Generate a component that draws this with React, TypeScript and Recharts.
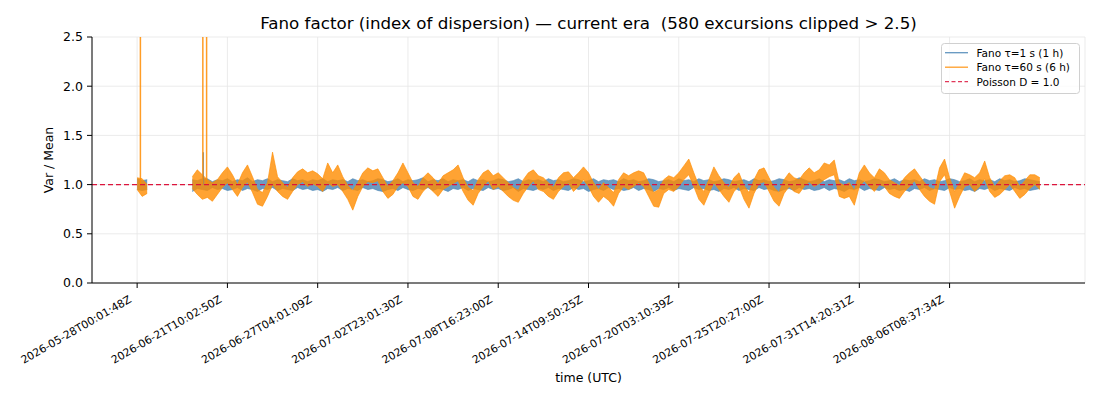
import React from 'react';
import { ComposedChart, Line, Area, XAxis, YAxis, CartesianGrid, ReferenceLine } from 'recharts';

const FONT = '"DejaVu Sans", sans-serif';

const TITLE = 'Fano factor (index of dispersion) — current era  (580 excursions clipped > 2.5)';

const X_TICK_POS = [0, 36, 72, 108, 144, 180, 216, 252, 288, 324];
const X_TICK_LABELS = [
  '2026-05-28T00:01:48Z',
  '2026-06-21T10:02:50Z',
  '2026-06-27T04:01:09Z',
  '2026-07-02T23:01:30Z',
  '2026-07-08T16:23:00Z',
  '2026-07-14T09:50:25Z',
  '2026-07-20T03:10:39Z',
  '2026-07-25T20:27:00Z',
  '2026-07-31T14:20:31Z',
  '2026-08-06T08:37:34Z',
];
const Y_TICKS = [0, 0.5, 1.0, 1.5, 2.0, 2.5];
const CLIP = 2.5;

const N8 = [null, null, null, null, null, null, null, null];

// Fano tau=1 s (1 h): per-sample upper / lower envelope
const blueHi: (number | null)[] = [
  1.06, 1.04, 1.05, ...N8,
  1.05, 1.04, 1.06, 1.06, 1.03, 1.05, 1.04, 1.06, 1.03, 1.05,
  1.04, 1.07, 1.03, 1.05, 1.04, 1.06, 1.03, 1.05, 1.04, 1.03,
  1.06, 1.04, 1.05, 1.03, 1.05, 1.04, 1.06, 1.03, 1.05, 1.04,
  1.05, 1.03, 1.06, 1.04, 1.05, 1.03, 1.04, 1.06, 1.05, 1.03,
  1.04, 1.06, 1.03, 1.05, 1.04, 1.05, 1.07, 1.03, 1.05, 1.04,
  1.06, 1.03, 1.05, 1.04, 1.05, 1.03, 1.06, 1.04, 1.05, 1.03,
  1.04, 1.06, 1.05, 1.03, 1.04, 1.06, 1.03, 1.05, 1.04, 1.05,
  1.03, 1.06, 1.04, 1.05, 1.03, 1.04, 1.06, 1.05, 1.03, 1.04,
  1.06, 1.03, 1.05, 1.04, 1.05, 1.03, 1.06, 1.04, 1.05, 1.03,
  1.04, 1.06, 1.05, 1.03, 1.04, 1.05, 1.03, 1.06, 1.04, 1.05,
  1.03, 1.06, 1.04, 1.05, 1.03, 1.04, 1.06, 1.05, 1.03, 1.04,
  1.05, 1.03, 1.06, 1.04, 1.05, 1.03, 1.04, 1.06, 1.05, 1.03,
  1.04, 1.07, 1.05, 1.03, 1.04, 1.06, 1.03, 1.05, 1.04, 1.05,
  1.03, 1.06, 1.04, 1.05, 1.03, 1.04, 1.06, 1.05, 1.03, 1.04,
  1.06, 1.03, 1.05, 1.04, 1.05, 1.03, 1.06, 1.04, 1.05, 1.03,
  1.04, 1.06, 1.05, 1.03, 1.04, 1.06, 1.03, 1.05, 1.04, 1.05,
  1.03, 1.06, 1.04, 1.05, 1.03, 1.04, 1.06, 1.05, 1.04, 1.03,
];
const blueLo: (number | null)[] = [
  0.95, 0.94, 0.95, ...N8,
  0.93, 0.96, 0.95, 0.94, 0.97, 0.95, 0.96, 0.94, 0.95, 0.97,
  0.94, 0.96, 0.95, 0.93, 0.96, 0.95, 0.97, 0.94, 0.96, 0.95,
  0.94, 0.97, 0.95, 0.96, 0.94, 0.95, 0.93, 0.96, 0.95, 0.97,
  0.94, 0.96, 0.95, 0.94, 0.97, 0.95, 0.96, 0.94, 0.93, 0.95,
  0.96, 0.94, 0.97, 0.95, 0.94, 0.96, 0.95, 0.97, 0.94, 0.96,
  0.95, 0.93, 0.96, 0.95, 0.97, 0.94, 0.96, 0.95, 0.94, 0.97,
  0.95, 0.96, 0.94, 0.95, 0.97, 0.93, 0.96, 0.95, 0.94, 0.96,
  0.95, 0.97, 0.94, 0.96, 0.95, 0.94, 0.97, 0.95, 0.96, 0.93,
  0.95, 0.96, 0.94, 0.97, 0.95, 0.96, 0.94, 0.95, 0.97, 0.94,
  0.96, 0.95, 0.93, 0.96, 0.95, 0.97, 0.94, 0.96, 0.95, 0.94,
  0.97, 0.95, 0.96, 0.94, 0.95, 0.93, 0.96, 0.95, 0.97, 0.94,
  0.96, 0.95, 0.94, 0.97, 0.95, 0.96, 0.94, 0.93, 0.95, 0.96,
  0.94, 0.97, 0.95, 0.96, 0.94, 0.95, 0.97, 0.94, 0.96, 0.95,
  0.93, 0.96, 0.95, 0.97, 0.94, 0.96, 0.95, 0.94, 0.97, 0.95,
  0.96, 0.94, 0.95, 0.93, 0.96, 0.95, 0.97, 0.94, 0.96, 0.95,
  0.94, 0.97, 0.95, 0.96, 0.94, 0.95, 0.93, 0.96, 0.95, 0.97,
  0.94, 0.96, 0.95, 0.94, 0.97, 0.95, 0.96, 0.94, 0.95, 0.96,
];

// Fano tau=60 s (6 h): per-sample upper / lower envelope
const orangeHi: (number | null)[] = [
  1.07, 1.06, 1.0, ...N8,
  1.08, 1.15, 1.1, 1.05, 1.02, 1.05, 1.12, 1.18, 1.1, 1.0,
  1.12, 1.2, 1.08, 0.95, 0.92, 1.02, 1.33, 1.08, 1.02, 0.97,
  1.07, 1.13, 1.16, 1.12, 1.14, 1.11, 1.06, 1.22, 1.12, 1.2,
  1.08, 0.99, 0.94, 1.02, 1.12, 1.17, 1.14, 1.16, 1.07, 0.98,
  1.04, 1.12, 1.22, 1.12, 1.02, 0.98, 1.07, 1.12, 1.07, 1.01,
  1.09, 1.12, 1.15, 1.2, 1.07, 0.97, 0.94, 1.05, 1.12, 1.15,
  1.09, 1.12, 1.07, 1.02, 0.97, 0.94, 1.05, 1.12, 1.15, 1.09,
  1.07, 1.02, 0.97, 1.07, 1.12, 1.13, 1.07, 1.12, 1.18, 1.12,
  1.02, 0.95, 1.02, 0.97, 0.92, 1.05, 1.12, 1.09, 1.12, 1.14,
  1.12, 1.02, 0.92, 0.95, 1.05, 1.09, 1.07, 1.12, 1.19, 1.26,
  1.12, 0.99, 0.93, 1.05, 1.18, 1.09, 1.02, 0.97, 1.07, 1.12,
  0.99, 0.92, 1.05, 1.15, 1.17, 1.07, 0.97, 0.92, 1.05, 1.12,
  1.07, 1.05, 1.12, 1.17, 1.12, 1.15, 1.22, 1.2, 1.25, 1.02,
  0.99, 1.02, 0.94, 1.12, 1.2, 1.12, 1.07, 1.16, 1.12, 1.05,
  1.02, 0.99, 1.07, 1.12, 1.16, 1.09, 1.02, 0.97, 0.95, 1.17,
  1.26, 1.07, 0.93, 1.02, 1.12, 1.1, 1.07, 1.12, 1.24, 1.07,
  0.98, 1.04, 1.09, 1.1, 1.07, 0.98, 1.04, 1.1, 1.1, 1.07,
];
const orangeLo: (number | null)[] = [
  0.95, 0.88, 0.91, ...N8,
  0.96, 0.9, 0.85, 0.87, 0.83, 0.9, 0.97, 1.02, 0.95, 0.88,
  0.97, 1.03, 0.92, 0.8, 0.78, 0.88, 1.0, 0.93, 0.88, 0.85,
  0.93, 1.0, 1.03, 0.98, 1.01, 0.98, 0.93, 1.02, 0.98, 1.0,
  0.93, 0.85, 0.74, 0.88, 0.98, 1.03, 1.02, 1.04, 0.93, 0.86,
  0.9, 0.98, 1.02, 0.98, 0.88, 0.85, 0.93, 0.98, 0.93, 0.88,
  0.95, 0.98, 1.01, 1.04, 0.93, 0.84, 0.79, 0.91, 0.98, 1.04,
  0.95, 0.98, 0.93, 0.88, 0.84, 0.82, 0.91, 0.98, 1.04, 0.95,
  0.93, 0.88, 0.85, 0.93, 0.98, 1.02, 0.93, 0.98, 1.05, 0.98,
  0.88, 0.82, 0.88, 0.84, 0.78, 0.91, 0.98, 0.95, 0.98, 1.02,
  0.98, 0.88, 0.78, 0.77, 0.91, 0.95, 0.93, 0.98, 1.05, 1.1,
  0.98, 0.85, 0.79, 0.91, 1.02, 0.95, 0.88, 0.82, 0.93, 0.98,
  0.85, 0.76, 0.91, 1.01, 1.03, 0.93, 0.83, 0.78, 0.91, 0.98,
  0.93, 0.91, 0.98, 1.03, 0.98, 1.01, 1.05, 1.08, 1.1, 0.88,
  0.86, 0.88, 0.79, 0.98, 1.04, 0.98, 0.93, 1.0, 0.98, 0.91,
  0.88, 0.86, 0.93, 0.98, 1.04, 0.95, 0.88, 0.83, 0.8, 1.03,
  1.1, 0.93, 0.76, 0.88, 0.98, 1.0, 0.93, 0.98, 1.06, 0.93,
  0.87, 0.9, 0.95, 1.0, 0.93, 0.86, 0.9, 0.96, 1.0, 0.95,
];

// isolated excursions (sample index, peak value; values above 2.5 are clipped)
const orangeSpikeIdx = [1.3, 26.2, 27.7];
const orangeSpikeVal = [CLIP, CLIP, CLIP];
const blueSpikeIdx = [26.4];
const blueSpikeVal = [1.33];

type Row = { x: number; blue: number[] | null; orange: number[] | null };
const rows: Row[] = orangeHi.map((h, i) => ({
  x: 2 * i,
  blue: blueHi[i] == null || blueLo[i] == null ? null : [blueLo[i] as number, blueHi[i] as number],
  orange: h == null || orangeLo[i] == null ? null : [orangeLo[i] as number, h],
}));

const spikeRows = (idx: number[], val: number[]) => {
  const out: { x: number; v: number | null }[] = [];
  idx.forEach((x, k) => {
    out.push({ x, v: 1.0 });
    out.push({ x, v: val[k] });
    out.push({ x, v: 1.0 });
    out.push({ x, v: null });
  });
  return out;
};
const orangeSpikes = spikeRows(orangeSpikeIdx, orangeSpikeVal);
const blueSpikes = spikeRows(blueSpikeIdx, blueSpikeVal);

const XTick = (props: any) => {
  const { x, y, payload } = props;
  const idx = X_TICK_POS.indexOf(payload.value);
  const label = idx >= 0 ? X_TICK_LABELS[idx] : '';
  const ax = x - 5;
  const ay = y + 11.5;
  return (
    <text
      x={ax}
      y={ay}
      textAnchor="end"
      fontSize={10.8}
      fontFamily={FONT}
      fill="#000"
      transform={`rotate(-30, ${ax}, ${ay})`}
    >
      {label}
    </text>
  );
};

const LEGEND_ITEMS = [
  { label: 'Fano τ=1 s (1 h)', color: '#4682b4', dash: undefined as string | undefined },
  { label: 'Fano τ=60 s (6 h)', color: '#ff8c00', dash: undefined as string | undefined },
  { label: 'Poisson D = 1.0', color: '#dc143c', dash: '4 2.5' },
];

const BLUE = '#4682b4';
const ORANGE = '#ff8c00';

export default function App() {
  return (
    <div style={{ position: 'absolute', left: 0, top: 0, width: 1100, height: 400, background: '#fff', fontFamily: FONT }}>
      <ComposedChart width={1100} height={400} data={rows} margin={{ top: 37, right: 15, bottom: 0, left: 0 }}>
        <CartesianGrid stroke="#e6e6e6" strokeWidth={0.8} />
        <XAxis
          type="number"
          dataKey="x"
          domain={[-18, 378]}
          ticks={X_TICK_POS}
          interval={0}
          allowDataOverflow
          height={117}
          tickSize={5}
          tick={<XTick />}
          axisLine={{ stroke: '#000', strokeWidth: 1 }}
          tickLine={{ stroke: '#000', strokeWidth: 1 }}
        />
        <YAxis
          type="number"
          domain={[0, 2.5]}
          ticks={Y_TICKS}
          interval={0}
          allowDataOverflow
          width={92}
          tickSize={5}
          tickMargin={4}
          tickFormatter={(v: number) => v.toFixed(1)}
          tick={{ fill: '#000', fontSize: 12.5, fontFamily: FONT }}
          axisLine={{ stroke: '#000', strokeWidth: 1 }}
          tickLine={{ stroke: '#000', strokeWidth: 1 }}
        />
        <Area
          type="linear"
          dataKey="blue"
          fill={BLUE}
          fillOpacity={0.8}
          stroke={BLUE}
          strokeOpacity={0.8}
          strokeWidth={0.8}
          dot={false}
          activeDot={false}
          isAnimationActive={false}
        />
        <Line
          data={blueSpikes}
          type="linear"
          dataKey="v"
          stroke={BLUE}
          strokeOpacity={0.8}
          strokeWidth={1.4}
          dot={false}
          activeDot={false}
          isAnimationActive={false}
        />
        <Area
          type="linear"
          dataKey="orange"
          fill={ORANGE}
          fillOpacity={0.8}
          stroke={ORANGE}
          strokeOpacity={0.8}
          strokeWidth={0.8}
          dot={false}
          activeDot={false}
          isAnimationActive={false}
        />
        <Line
          data={orangeSpikes}
          type="linear"
          dataKey="v"
          stroke={ORANGE}
          strokeOpacity={0.85}
          strokeWidth={1.5}
          dot={false}
          activeDot={false}
          isAnimationActive={false}
        />
        <ReferenceLine y={1} stroke="#dc143c" strokeDasharray="5 3" strokeWidth={1.2} />
      </ComposedChart>
      <svg
        width={1100}
        height={400}
        style={{ position: 'absolute', left: 0, top: 0, pointerEvents: 'none' }}
        fontFamily={FONT}
      >
        <text x={588.5} y={29} textAnchor="middle" fontSize={16.7} fill="#000" style={{ whiteSpace: 'pre' }}>
          {TITLE}
        </text>
        <text x={588.5} y={382} textAnchor="middle" fontSize={12.5} fill="#000">
          time (UTC)
        </text>
        <text
          x={53}
          y={160}
          textAnchor="middle"
          fontSize={12.5}
          fill="#000"
          transform="rotate(-90, 53, 160)"
        >
          Var / Mean
        </text>
        <rect x={941.5} y={43.5} width={138} height={50} rx={3} fill="#fff" fillOpacity={0.8} stroke="#d0d0d0" strokeWidth={1} />
        {LEGEND_ITEMS.map((it, k) => {
          const cy = 52.7 + k * 14.5;
          return (
            <g key={it.label}>
              <line x1={945} x2={968} y1={cy} y2={cy} stroke={it.color} strokeOpacity={0.85} strokeWidth={1.3} strokeDasharray={it.dash} />
              <text x={976.5} y={cy + 3.8} fontSize={10.5} fill="#000">
                {it.label}
              </text>
            </g>
          );
        })}
      </svg>
    </div>
  );
}
